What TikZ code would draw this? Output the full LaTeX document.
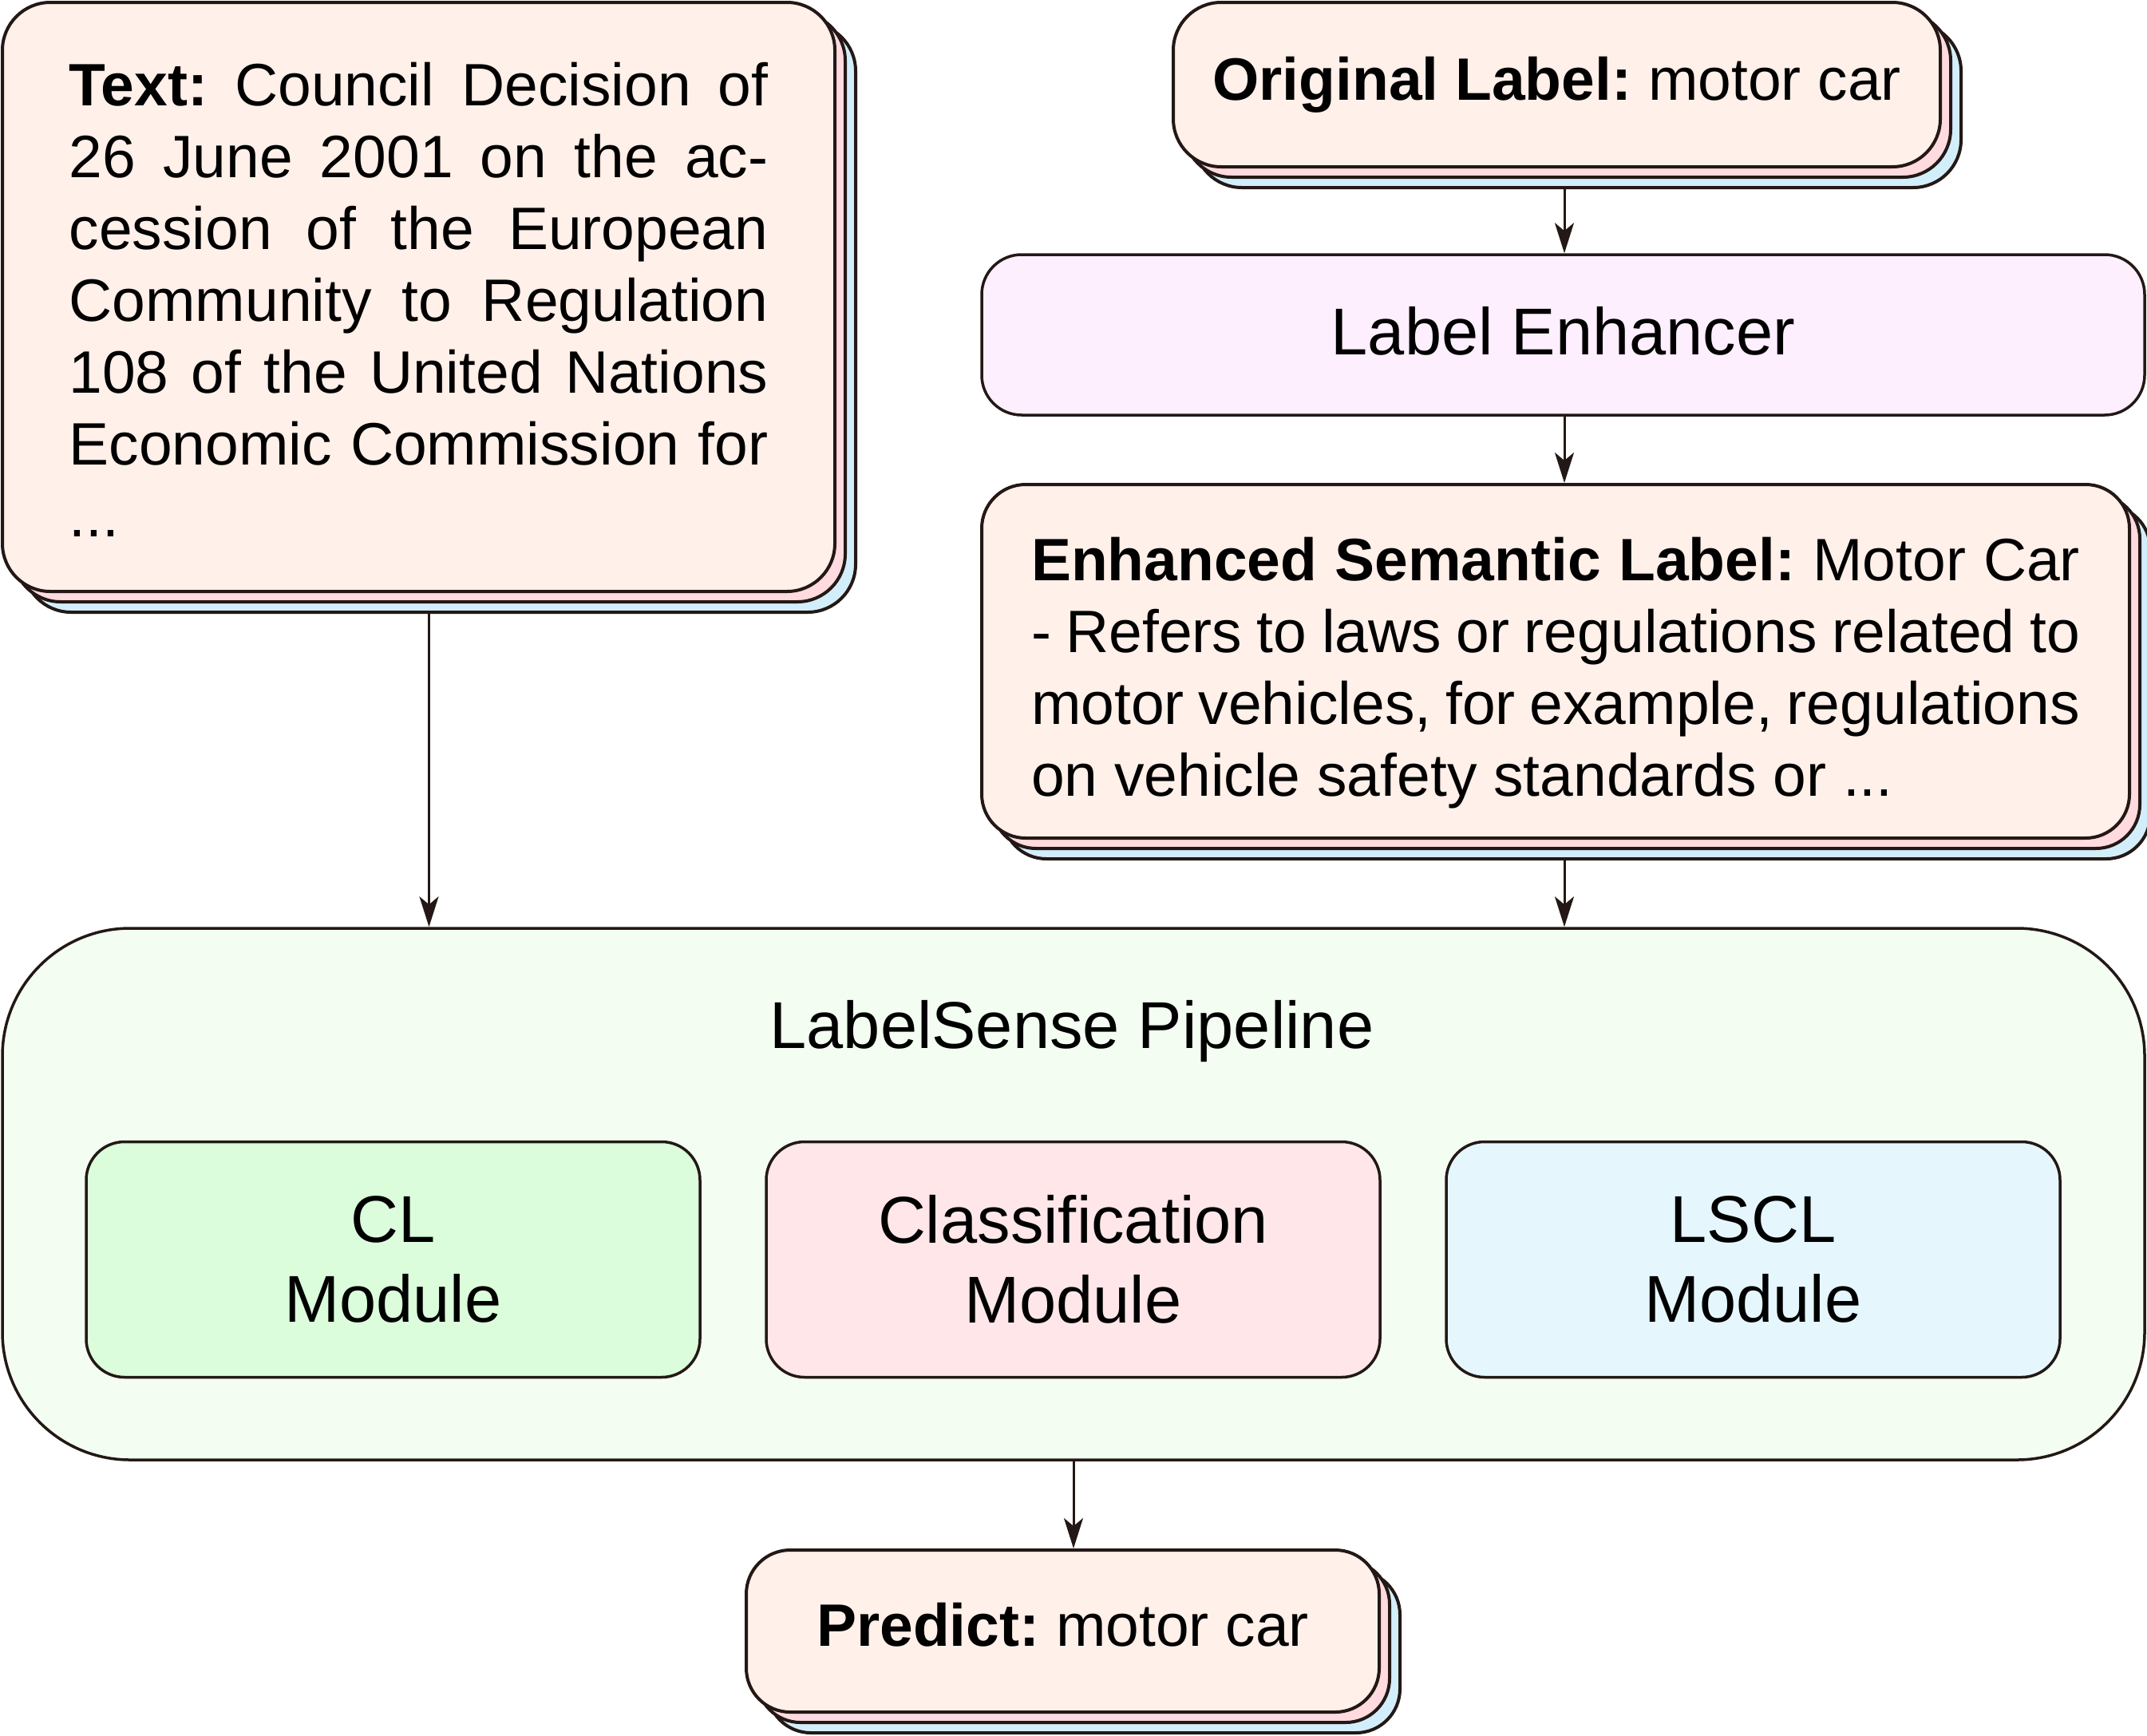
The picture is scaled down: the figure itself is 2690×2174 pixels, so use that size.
\documentclass[tikz,border=0pt]{standalone}
\usepackage{fontspec}
\setmainfont{Liberation Sans}
\frenchspacing
\usetikzlibrary{arrows.meta,shadows,positioning}

\definecolor{edge}{HTML}{231815}
\definecolor{peach}{HTML}{FFF0E9}
\definecolor{rose}{HTML}{FFDADE}
\definecolor{sky}{HTML}{D3EEFB}
\definecolor{lilac}{HTML}{FDEFFD}
\definecolor{mint}{HTML}{F3FDF1}
\definecolor{clgreen}{HTML}{DBFDDB}
\definecolor{clspink}{HTML}{FFE6E9}
\definecolor{lsblue}{HTML}{E5F7FD}

\tikzset{
  stacked/.style={draw=edge, line width=4pt, fill=peach, inner sep=0pt,
    copy shadow={shadow xshift=26pt, shadow yshift=-26pt, fill=sky, draw=edge, line width=4pt},
    copy shadow={shadow xshift=13pt, shadow yshift=-13pt, fill=rose, draw=edge, line width=4pt}},
  plainbox/.style={draw=edge, line width=3.5pt, inner sep=0pt},
  module/.style={plainbox, rounded corners=48pt, minimum width=769pt, minimum height=295pt,
    align=center, font=\fontsize{83}{100}\selectfont},
  para/.style={inner sep=0pt, align=justify, font=\fontsize{75}{90}\selectfont},
  flow/.style={draw=edge, line width=3pt, -{Stealth[length=38pt,width=24pt,inset=10pt]}},
}

\begin{document}
\begin{tikzpicture}[x=1pt,y=-1pt]
  \useasboundingbox (0,0) rectangle (2690,2174);
  \coordinate (ax) at (1960,0);

  % inputs
  \node[stacked, rounded corners=60pt, minimum width=1043pt, minimum height=738pt] (txt) at (524.5,372) {};
  \node[para, text width=876pt] (txttext) at (524.5,375.5)
    {\textbf{Text:} Council Decision of\linebreak
     26 June 2001 on the ac-\linebreak
     cession of the European\linebreak
     Community to Regulation\linebreak
     108 of the United Nations\linebreak
     Economic Commission for\linebreak
     ...};
  \node[stacked, rounded corners=60pt, minimum width=961pt, minimum height=206pt,
    font=\fontsize{75}{90}\selectfont] (orig) at (1950.5,106)
    {\textbf{Original Label:} motor car};
  \node[plainbox, fill=lilac, rounded corners=50pt, minimum width=1457pt, minimum height=201pt,
    text depth=10pt, font=\fontsize{83}{100}\selectfont] (enhancer) at (1958.5,419.5) {Label Enhancer};
  \node[stacked, rounded corners=55pt, minimum width=1438pt, minimum height=443pt] (enh) at (1949,828.5) {};
  \node[para, text width=1314pt] (enhtext) at (1949,843.5)
    {\textbf{Enhanced Semantic Label:} Motor Car\linebreak
     - Refers to laws or regulations related to\linebreak
     motor vehicles, for example, regulations\linebreak
     on vehicle safety standards or ...};

  % pipeline
  \node[plainbox, fill=mint, rounded corners=160pt, minimum width=2684pt, minimum height=666pt] (pipe) at (1345,1496) {};
  \node[font=\fontsize{83}{100}\selectfont] (pipelabel) at (1343,1292) {LabelSense Pipeline};
  \node[module, fill=clgreen] (cl) at (492.5,1578) {CL\\Module};
  \node[module, fill=clspink] (cls) at (1344.5,1578) {Classification\\Module};
  \node[module, fill=lsblue] (lscl) at (2196.5,1578) {LSCL\\Module};

  % output
  \node[stacked, rounded corners=55pt, minimum width=793pt, minimum height=203pt,
    text depth=16pt, font=\fontsize{75}{90}\selectfont] (pred) at (1331.5,2043.5)
    {\textbf{Predict:} motor car};

  % connectors
  \coordinate (t1) at ([xshift=13pt,yshift=-26pt]txt.south);
  \coordinate (o1) at ([yshift=-26pt]orig.south);
  \coordinate (e1) at ([yshift=-26pt]enh.south);
  \draw[flow] (t1) -- (t1 |- pipe.north);
  \draw[flow] (o1 -| ax) -- (enhancer.north -| ax);
  \draw[flow] (enhancer.south -| ax) -- (enh.north -| ax);
  \draw[flow] (e1 -| ax) -- (pipe.north -| ax);
  \draw[flow] (pipe.south) -- (pipe.south |- pred.north);
\end{tikzpicture}
\end{document}
